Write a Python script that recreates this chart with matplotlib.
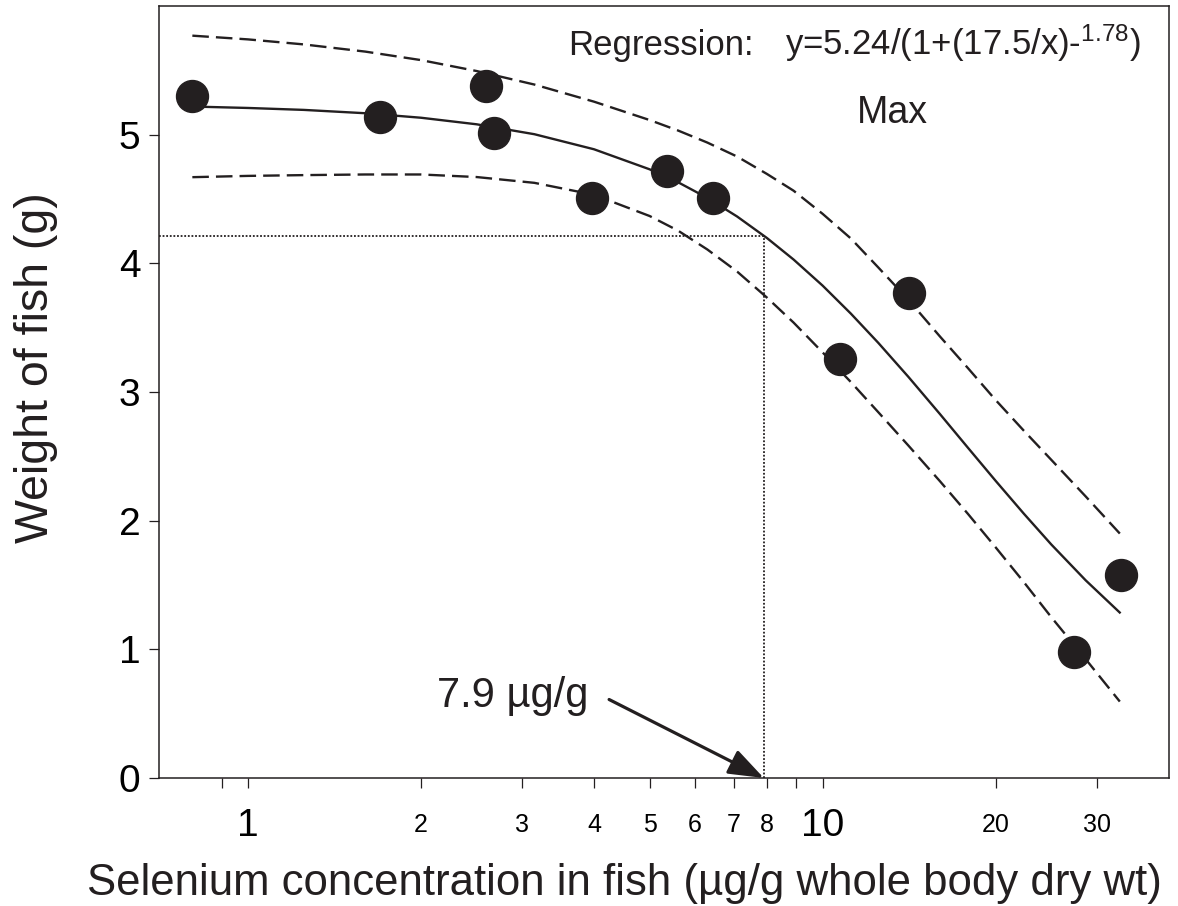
import numpy as np
import matplotlib
matplotlib.use("Agg")
import matplotlib.pyplot as plt

plt.rcParams['font.family'] = ['Liberation Sans', 'DejaVu Sans']
plt.rcParams['mathtext.fontset'] = 'custom'
plt.rcParams['mathtext.rm'] = 'Liberation Sans'
plt.rcParams['mathtext.it'] = 'Liberation Sans'

ink = '#231f20'

# measured fish (selenium ug/g, weight g)
se_conc = [0.80, 1.695, 2.59, 2.68, 3.97, 5.37, 6.45, 10.7, 14.16, 27.4, 33.0]
weight = [5.30, 5.135, 5.38, 5.01, 4.51, 4.715, 4.51, 3.26, 3.77, 0.98, 1.58]

# regression line
fit_x = [0.80, 1.0, 1.25, 1.6, 2.0, 2.5, 3.15, 4.0, 5.0, 5.6, 6.3, 7.1, 8.0, 8.9,
         10.0, 11.2, 12.5, 14.1, 16.0, 17.9, 20.0, 22.4, 25.0, 28.7, 33.0]
fit_y = [5.219, 5.208, 5.193, 5.167, 5.132, 5.081, 5.004, 4.887, 4.731, 4.631, 4.509, 4.364, 4.197, 4.030,
         3.827, 3.609, 3.382, 3.118, 2.829, 2.567, 2.310, 2.054, 1.815, 1.536, 1.280]

# upper / lower bands (dashed)
band_x = [0.80, 1.0, 1.25, 1.6, 2.0, 2.5, 3.15, 4.0, 5.0, 5.6, 6.3, 7.1, 8.0, 8.9,
          10.0, 11.2, 12.5, 14.1, 16.0, 17.9, 20.0, 22.4, 25.0, 28.7, 32.9]
up_y = [5.770, 5.741, 5.702, 5.646, 5.580, 5.495, 5.390, 5.257, 5.114, 5.033, 4.939, 4.830, 4.695, 4.565,
        4.385, 4.193, 3.968, 3.717, 3.432, 3.186, 2.938, 2.699, 2.473, 2.188, 1.900]
lo_y = [4.670, 4.680, 4.686, 4.691, 4.691, 4.671, 4.626, 4.533, 4.368, 4.255, 4.108, 3.936, 3.734, 3.540,
        3.308, 3.077, 2.843, 2.584, 2.307, 2.053, 1.793, 1.522, 1.250, 0.923, 0.594]

ec_x = 7.9
ec_y = 4.21

fig = plt.figure(figsize=(11.78, 9.06), dpi=100)
ax = fig.add_axes([0.135, 0.1413, 0.857, 0.852])

ax.plot(fit_x, fit_y, color=ink, lw=1.7, solid_capstyle='butt', solid_joinstyle='round')
ax.plot(band_x, up_y, color=ink, lw=1.7, dashes=(7, 3))
ax.plot(band_x, lo_y, color=ink, lw=1.7, dashes=(7, 3))
ax.plot(se_conc, weight, 'o', color=ink, ms=23, zorder=5)

ax.plot([0.7, ec_x], [ec_y, ec_y], color=ink, lw=1.3, linestyle=(0, (1, 1)))
ax.plot([ec_x, ec_x], [0, ec_y], color=ink, lw=1.3, linestyle=(0, (1, 1)))

ax.annotate('', xy=(ec_x, 0), xytext=(4.25, 0.61),
            arrowprops=dict(arrowstyle='-|>,head_length=0.6,head_width=0.22',
                            mutation_scale=36, lw=2.3, color=ink,
                            shrinkA=0, shrinkB=0))
ax.text(2.13, 0.55, '7.9 \u00b5g/g', fontsize=30, color=ink, va='baseline')

ax.text(3.60, 5.62, 'Regression:', fontsize=25, color=ink, va='baseline')
ax.text(8.60, 5.62, 'y=5.24/(1+(17.5/x)-$^{1.78}$)', fontsize=25, color=ink, va='baseline')
ax.text(11.47, 5.09, 'Max', fontsize=27, color=ink, va='baseline')

ax.set_xscale('log')
ax.set_xlim(0.7, 40)
ax.set_ylim(0, 6)

xt = [1, 2, 3, 4, 5, 6, 7, 8, 10, 20, 30]
ax.set_xticks(xt)
ax.set_xticklabels([str(v) for v in xt])
ax.set_xticks([0.9, 9], minor=True)
ax.xaxis.set_minor_formatter(matplotlib.ticker.NullFormatter())
for lab, v in zip(ax.get_xticklabels(), xt):
    if v in (1, 10):
        lab.set_fontsize(28)
    else:
        lab.set_fontsize(18)
for tk, v in zip(ax.xaxis.get_major_ticks(), xt):
    tk.set_pad(14 if v in (1, 10) else 18)

ax.set_yticks([0, 1, 2, 3, 4, 5])
ax.tick_params(axis='y', labelsize=28, pad=6)
ax.tick_params(axis='both', which='both', direction='out', length=7.5, width=0.9, color=ink)

for s in ax.spines.values():
    s.set_linewidth(1.1)
    s.set_color(ink)

ax.set_xlabel('Selenium concentration in fish (\u00b5g/g whole body dry wt)', fontsize=31.5, color=ink)
ax.xaxis.label.set_va('baseline')
ax.xaxis.set_label_coords(0.461, -0.1516)
ax.set_ylabel('Weight of fish (g)', fontsize=33.5, color=ink)
ax.yaxis.label.set_va('center')
ax.yaxis.set_label_coords(-0.122, 0.531)

fig.savefig('out.png', dpi=100)
